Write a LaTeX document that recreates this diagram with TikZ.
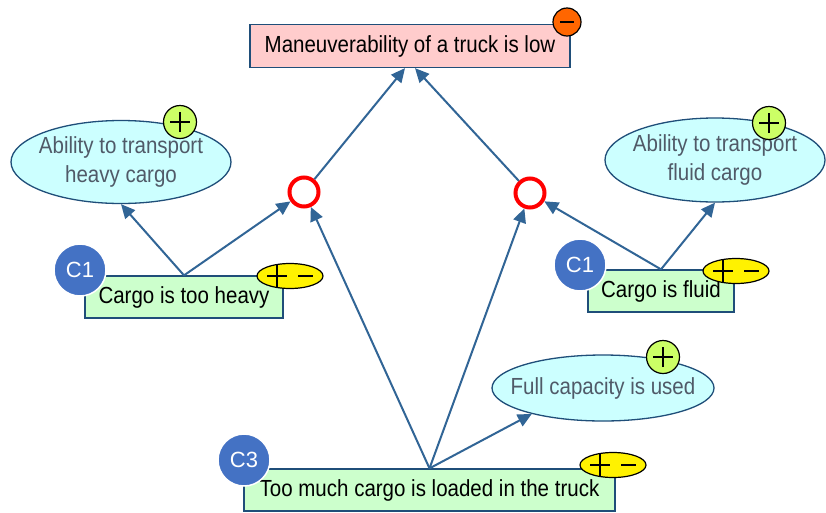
\documentclass[tikz,border=0pt]{standalone}
\usepackage{fontspec}
\setmainfont{Liberation Sans}[FakeStretch=0.88]
\newfontfamily\tagfont{Liberation Sans}
\usetikzlibrary{shapes.geometric,arrows.meta}

\definecolor{linkblue}{RGB}{49,101,150}
\definecolor{edgenavy}{RGB}{31,78,121}
\definecolor{goalpink}{RGB}{255,204,204}
\definecolor{causegreen}{RGB}{204,255,204}
\definecolor{effectcyan}{RGB}{204,255,255}
\definecolor{effecttext}{RGB}{80,90,104}
\definecolor{tagblue}{RGB}{68,114,196}
\definecolor{plusgreen}{RGB}{204,255,102}
\definecolor{minusorange}{RGB}{255,102,0}

\tikzset{
  base/.style={font=\fontsize{23.3}{29}\selectfont, align=center, inner sep=0pt},
  goalbox/.style={base, rectangle, draw=edgenavy, line width=1.3pt, fill=goalpink,
    minimum width=320pt, minimum height=43pt},
  causebox/.style={base, rectangle, draw=edgenavy, line width=1.3pt, fill=causegreen,
    minimum height=42pt},
  effect/.style={base, ellipse, draw=edgenavy, line width=1.3pt, fill=effectcyan,
    text=effecttext, inner xsep=-40pt},
  ornode/.style={circle, draw=red, line width=4pt, fill=white, minimum size=29pt, inner sep=0pt},
  tag/.style={circle, draw=white, line width=1.5pt, fill=tagblue, text=white,
    font=\tagfont\fontsize{22}{26}\selectfont, inner sep=0pt, minimum size=52pt},
  plusmark/.style={circle, draw=black, line width=1.2pt, fill=plusgreen, minimum size=33pt,
    inner sep=0pt,
    path picture={\draw[line width=2.4pt]
      ([xshift=-10pt]path picture bounding box.center) -- ([xshift=10pt]path picture bounding box.center)
      ([yshift=-10pt]path picture bounding box.center) -- ([yshift=10pt]path picture bounding box.center);}},
  minusmark/.style={circle, draw=black, line width=1.2pt, fill=minusorange, minimum size=28pt,
    inner sep=0pt,
    path picture={\draw[line width=2.5pt]
      ([xshift=-7pt]path picture bounding box.center) -- ([xshift=7pt]path picture bounding box.center);}},
  bothmark/.style={ellipse, draw=black, line width=1.2pt, fill=yellow, minimum width=66pt,
    minimum height=25pt, inner sep=0pt,
    path picture={\draw[line width=2.6pt]
      ([xshift=-23pt]path picture bounding box.center) -- ([xshift=-3pt]path picture bounding box.center)
      ([xshift=-13pt,yshift=-11pt]path picture bounding box.center) -- ([xshift=-13pt,yshift=11pt]path picture bounding box.center)
      ([xshift=8pt]path picture bounding box.center) -- ([xshift=23pt]path picture bounding box.center);}},
  link/.style={draw=linkblue, line width=2pt, -{Triangle[length=14pt,width=13pt]}}
}

\begin{document}
\begin{tikzpicture}[x=1pt,y=-1pt]
  \useasboundingbox[fill=white] (0,0) rectangle (826,512);

  % goal
  \node[goalbox] (top) at (410,46) {Maneuverability of a truck is low};
  \node[minusmark] (topmark) at (567,22) {};

  % effects
  \node[effect, minimum width=220pt, minimum height=83pt] (ellL) at (121,162)
    {Ability to transport\\heavy cargo};
  \node[plusmark] (plusL) at (180,122) {};
  \node[effect, minimum width=220pt, minimum height=84pt] (ellR) at (715,160)
    {Ability to transport\\fluid cargo};
  \node[plusmark] (plusR) at (769,123) {};
  \node[effect, minimum width=222pt, minimum height=66pt] (ellF) at (603,388)
    {Full capacity is used};
  \node[plusmark] (plusF) at (663,357) {};

  % OR junctions
  \node[ornode] (orL) at (304,192) {};
  \node[ornode] (orR) at (530,193) {};

  % causes
  \node[causebox, minimum width=198pt] (boxL) at (184,297) {Cargo is too heavy};
  \node[tag] (tagL) at (80,270) {C1};
  \node[bothmark] (pmL) at (290,276) {};

  \node[causebox, minimum width=146pt] (boxR) at (661,291) {Cargo is fluid};
  \node[tag] (tagR) at (580,265) {C1};
  \node[bothmark] (pmR) at (736,271) {};

  \node[causebox, minimum width=371pt] (boxB) at (429.5,490) {Too much cargo is loaded in the truck};
  \node[tag] (tagB) at (244,460) {C3};
  \node[bothmark] (pmB) at (613,465) {};

  % links
  \draw[link] (boxL.north) -- (ellL.south);
  \draw[link] (boxL.north) -- (orL);
  \draw[link] (boxB.north) -- (orL);
  \draw[link] (boxB.north) -- (orR);
  \draw[link] (boxB.north) -- (ellF.200);
  \draw[link] (boxR.north) -- (orR);
  \draw[link] (boxR.north) -- (ellR.south);
  \draw[link] (orL) -- ([xshift=-5pt]top.south);
  \draw[link] (orR) -- ([xshift=5pt]top.south);
\end{tikzpicture}
\end{document}
